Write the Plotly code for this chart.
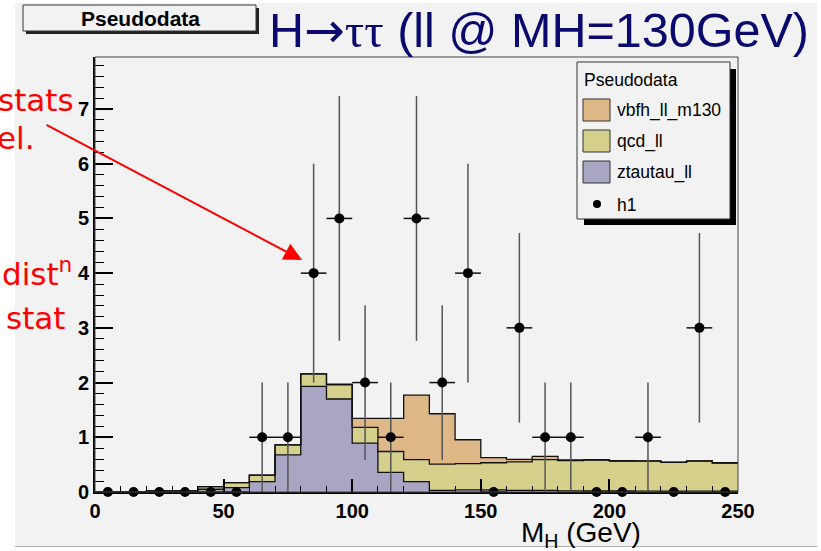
import numpy as np
import plotly.graph_objects as go

# Binning: 25 bins of 10 GeV from 0 to 250
bin_edges = list(range(0, 260, 10))
bin_centers = [e + 5 for e in bin_edges[:-1]]

# Stacked background / signal templates (events per bin)
ztautau_ll = [0.0, 0.0, 0.01, 0.01, 0.05, 0.08, 0.19, 0.68, 1.93, 1.70,
              0.895, 0.36, 0.19, 0.03, 0.04, 0.04, 0.03, 0.03, 0.02, 0.02,
              0.02, 0.015, 0.015, 0.015, 0.015]
qcd_ll = [0.0, 0.0, 0.01, 0.01, 0.05, 0.09, 0.12, 0.18, 0.23, 0.26,
          0.285, 0.38, 0.40, 0.48, 0.48, 0.495, 0.52, 0.56, 0.555, 0.565,
          0.546, 0.55, 0.525, 0.55, 0.515]
vbfh_ll_m130 = [0.0, 0.0, 0.0, 0.0, 0.0, 0.0, 0.0, 0.0, 0.0, 0.01,
                0.165, 0.605, 1.18, 0.92, 0.435, 0.095, 0.047, 0.06, 0.01, 0.005,
                0.005, 0.005, 0.005, 0.005, 0.005]

# Pseudodata counts (h1)
h1 = [0, 0, 0, 0, 0, 0, 1, 1, 4, 5,
      2, 1, 5, 2, 4, 0, 3, 1, 1, 0,
      0, 1, 0, 3, 0]
h1_err = np.sqrt(np.array(h1, dtype=float))

x_ticks = [0, 50, 100, 150, 200, 250]
y_ticks = [0, 1, 2, 3, 4, 5, 6, 7]

C_ZTT = "#a9a6c4"
C_QCD = "#d5d18d"
C_VBF = "#dfb888"
CANVAS = "#f2f2f2"

W, H = 821, 551
L, R, T, B = 95, 83, 57, 59
PW, PH = W - L - R, H - T - B


def px(x):
    return (x - L) / PW


def py(y):
    return (H - B - y) / PH


fig = go.Figure()

# stacked step histograms: ztautau at the bottom, then qcd, then the signal
step_x = bin_edges
for name, vals, col in [("ztautau_ll", ztautau_ll, C_ZTT),
                        ("qcd_ll", qcd_ll, C_QCD),
                        ("vbfh_ll_m130", vbfh_ll_m130, C_VBF)]:
    fig.add_trace(go.Scatter(
        x=step_x, y=list(vals) + [vals[-1]], name=name,
        stackgroup="bkg", line=dict(shape="hv", color="#111111", width=1.3),
        fillcolor=col, mode="lines", showlegend=False, hoverinfo="skip",
    ))

# pseudodata with Poisson errors
fig.add_trace(go.Scatter(
    x=bin_centers, y=h1, name="h1", mode="markers",
    marker=dict(color="black", size=10),
    error_y=dict(type="data", array=h1_err, visible=True, color="#555555",
                 thickness=1.5, width=0),
    error_x=dict(type="constant", value=5, visible=True, color="#111111",
                 thickness=1.5, width=0),
    cliponaxis=False, showlegend=False,
))

shapes = []
annotations = []

# white slide margins around the grey canvas
for x0, y0, x1, y1 in [(0, 0, 15, H), (0, 0, W, 3), (817, 0, W, H), (0, 547, W, H)]:
    shapes.append(dict(type="rect", xref="paper", yref="paper",
                       x0=px(x0), x1=px(x1), y0=py(y1), y1=py(y0),
                       fillcolor="white", line=dict(width=0), layer="above"))
shapes.append(dict(type="line", xref="paper", yref="paper",
                   x0=px(15), x1=px(817), y0=py(546.5), y1=py(546.5),
                   line=dict(color="#b0b0b0", width=1), layer="above"))

# frame around the plotting area
shapes.append(dict(type="rect", xref="paper", yref="paper", x0=0, x1=1, y0=0, y1=1,
                   line=dict(color="#444444", width=1), layer="above"))

# "Pseudodata" title box with shadow
shapes.append(dict(type="rect", xref="paper", yref="paper",
                   x0=px(26), x1=px(259), y0=py(34), y1=py(8),
                   fillcolor="#222222", line=dict(width=0), layer="above"))
shapes.append(dict(type="rect", xref="paper", yref="paper",
                   x0=px(23), x1=px(256), y0=py(31), y1=py(5),
                   fillcolor=CANVAS, line=dict(color="#333333", width=1), layer="above"))
annotations.append(dict(text="<b>Pseudodata</b>", xref="paper", yref="paper",
                        x=px(140), y=py(18), xanchor="center", yanchor="middle",
                        showarrow=False, font=dict(family="Liberation Sans", size=21, color="black")))

# main title
annotations.append(dict(
    text=("H<span style=\"font-family:'DejaVu Sans'\">→</span>"
          "<span style=\"font-family:'Liberation Serif'\">ττ</span> (ll @ MH=130GeV)"),
    xref="paper", yref="paper", x=px(267), y=py(30), xanchor="left", yanchor="middle",
    showarrow=False, font=dict(family="Liberation Sans", size=48.5, color="#0a0a6e")))

# legend box with shadow
shapes.append(dict(type="rect", xref="paper", yref="paper",
                   x0=px(584), x1=px(736), y0=py(225), y1=py(69),
                   fillcolor="black", line=dict(width=0), layer="above"))
shapes.append(dict(type="rect", xref="paper", yref="paper",
                   x0=px(577), x1=px(730), y0=py(219), y1=py(62),
                   fillcolor=CANVAS, line=dict(color="#333333", width=1), layer="above"))
annotations.append(dict(text="Pseudodata", xref="paper", yref="paper",
                        x=px(582), y=py(80), xanchor="left", yanchor="middle",
                        showarrow=False, font=dict(family="Liberation Sans", size=17.5, color="black")))
for label, col, yc in [("vbfh_ll_m130", C_VBF, 110), ("qcd_ll", C_QCD, 141), ("ztautau_ll", C_ZTT, 172)]:
    shapes.append(dict(type="rect", xref="paper", yref="paper",
                       x0=px(583), x1=px(610), y0=py(yc + 11), y1=py(yc - 11),
                       fillcolor=col, line=dict(color="#333333", width=1), layer="above"))
    annotations.append(dict(text=label, xref="paper", yref="paper",
                            x=px(615), y=py(yc), xanchor="left", yanchor="middle",
                            showarrow=False, font=dict(family="Liberation Sans", size=17.5, color="black")))
shapes.append(dict(type="circle", xref="paper", yref="paper",
                   x0=px(593), x1=px(601), y0=py(208), y1=py(200),
                   fillcolor="black", line=dict(color="black", width=0), layer="above"))
annotations.append(dict(text="h1", xref="paper", yref="paper",
                        x=px(615), y=py(205), xanchor="left", yanchor="middle",
                        showarrow=False, font=dict(family="Liberation Sans", size=17.5, color="black")))

# x axis title
annotations.append(dict(text="M<sub>H</sub> (GeV)", xref="paper", yref="paper",
                        x=px(519), y=py(534), xanchor="left", yanchor="middle",
                        showarrow=False, font=dict(family="Liberation Sans", size=28, color="black")))

# red slide notes along the left edge
red_font = dict(family="DejaVu Sans", size=31, color="#ff0000")
for txt, xr, yc in [("stats", 76, 100), ("el.", 37, 138), ("dist<sup>n</sup>", 74, 272), ("stat", 67, 318)]:
    annotations.append(dict(text=txt, xref="paper", yref="paper", x=px(xr), y=py(yc),
                            xanchor="right", yanchor="middle", showarrow=False, font=red_font))

# red arrow pointing at the data point
annotations.append(dict(text="", xref="paper", yref="paper", x=px(302), y=py(260),
                        ax=45 - 302, ay=124 - 260, axref="pixel", ayref="pixel",
                        showarrow=True, arrowhead=2, arrowsize=1.8, arrowwidth=2,
                        arrowcolor="#ff0000"))

tick_font = dict(family="Liberation Sans", size=20, color="black", weight="bold")

fig.update_layout(
    width=W, height=H, margin=dict(l=L, r=R, t=T, b=B),
    paper_bgcolor=CANVAS, plot_bgcolor=CANVAS,
    showlegend=False, shapes=shapes, annotations=annotations,
    xaxis=dict(range=[0, 250], tickvals=x_ticks, ticktext=[f"<b>{v}</b>" for v in x_ticks],
               ticks="inside", ticklen=13, tickwidth=1.5,
               tickcolor="black", showline=True, linecolor="black", linewidth=2,
               showgrid=False, zeroline=False, tickfont=tick_font,
               minor=dict(dtick=10, ticks="inside", ticklen=6, tickwidth=1.2, tickcolor="black",
                          showgrid=False)),
    yaxis=dict(range=[0, 7.95], tickvals=y_ticks, ticktext=[f"<b>{v}</b>" for v in y_ticks],
               ticks="inside", ticklen=18, tickwidth=1.5,
               tickcolor="black", showline=True, linecolor="black", linewidth=2,
               showgrid=False, zeroline=False, tickfont=tick_font,
               minor=dict(dtick=0.2, ticks="inside", ticklen=9, tickwidth=1.2, tickcolor="black",
                          showgrid=False)),
)

fig.write_html("out.html")
